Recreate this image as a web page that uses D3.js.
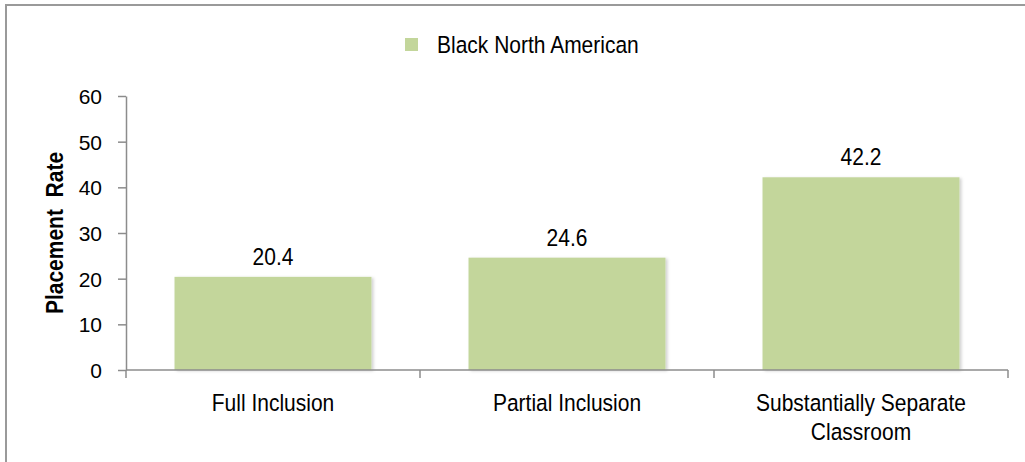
<!DOCTYPE html>
<html><head><meta charset="utf-8">
<script src="https://cdn.jsdelivr.net/npm/d3@7"></script>
<style>
html,body{margin:0;padding:0;background:#fff;}
text{font-family:"Liberation Sans",Arial,sans-serif;fill:#000;}
</style></head>
<body>
<svg id="chart" width="1025" height="462"></svg>
<script>
const categories = [["Full Inclusion"], ["Partial Inclusion"], ["Substantially Separate", "Classroom"]];
const values = [20.4, 24.6, 42.2];
const seriesName = "Black North American";
const yTicks = [0, 10, 20, 30, 40, 50, 60];

const svg = d3.select("#chart");
const m = {left: 126, right: 1008, top: 96, bottom: 370};

// border
svg.append("rect").attr("x", 6).attr("y", 5).attr("width", 1100).attr("height", 600)
  .attr("fill", "none").attr("stroke", "#9a9a9a").attr("stroke-width", 2);

const defs = svg.append("defs");
const f = defs.append("filter").attr("id", "sh").attr("x", "-10%").attr("y", "-10%").attr("width", "130%").attr("height", "130%");
f.append("feDropShadow").attr("dx", 2).attr("dy", 1).attr("stdDeviation", 1.5).attr("flood-color", "#000").attr("flood-opacity", 0.18);

const x = d3.scaleBand().domain(d3.range(categories.length)).range([m.left, m.right]).paddingInner(0.33).paddingOuter(0.165);
const xb = d3.scaleBand().domain(d3.range(categories.length)).range([m.left, m.right]);
const y = d3.scaleLinear().domain([0, 60]).range([m.bottom, m.top]);

// bars
svg.append("g").selectAll("rect").data(values).join("rect")
  .attr("x", (d, i) => x(i)).attr("width", x.bandwidth())
  .attr("y", d => y(d)).attr("height", d => y(0) - y(d))
  .attr("fill", "#c3d69b").attr("filter", "url(#sh)");

// value labels
svg.append("g").selectAll("text").data(values).join("text")
  .attr("transform", (d, i) => `translate(${x(i) + x.bandwidth() / 2},${y(d) - 12}) scale(1,1.1)`)
  .attr("text-anchor", "middle").style("font-size", "21px")
  .text(d => d.toFixed(1));

// y axis
const yAxis = d3.axisLeft(y).tickValues(yTicks).tickSize(8).tickPadding(16).tickSizeOuter(0);
const gy = svg.append("g").attr("transform", `translate(${m.left},0)`).call(yAxis);
gy.select(".domain").attr("stroke", "#8c8c8c").attr("stroke-width", 1.5);
gy.selectAll(".tick line").attr("stroke", "#8c8c8c").attr("stroke-width", 1.5);
gy.selectAll(".tick text").style("font-size", "21px").style("font-family", "'Liberation Sans',Arial,sans-serif").attr("fill", "#000").attr("dy", "0.36em");

// x axis
const gx = svg.append("g").attr("transform", `translate(0,${m.bottom})`);
gx.append("line").attr("x1", m.left).attr("x2", m.right).attr("y1", 0).attr("y2", 0)
  .attr("stroke", "#8c8c8c").attr("stroke-width", 1.5);
const bounds = [m.left].concat(d3.range(categories.length).map(i => xb(i) + xb.bandwidth()));
gx.selectAll("line.t").data(bounds).join("line").attr("class", "t")
  .attr("x1", d => d).attr("x2", d => d).attr("y1", 0).attr("y2", 8)
  .attr("stroke", "#8c8c8c").attr("stroke-width", 1.5);
const lbl = gx.selectAll("text.c").data(categories).join("text").attr("class", "c")
  .attr("text-anchor", "middle").style("font-size", "21px")
  .attr("transform", (d, i) => `translate(${xb(i) + xb.bandwidth() / 2},41) scale(1,1.18)`);
lbl.selectAll("tspan").data(d => d).join("tspan")
  .attr("x", 0).attr("dy", (d, j) => j === 0 ? 0 : 25).text(d => d);

// y title
svg.append("text").attr("transform", `translate(63,233) rotate(-90) scale(1,1.12)`)
  .attr("text-anchor", "middle").style("font-size", "21px").style("font-weight", "bold")
  .style("white-space", "pre").text("Placement  Rate");

// legend
const lg = svg.append("g").attr("transform", "translate(405,38)");
lg.append("rect").attr("width", 13).attr("height", 13).attr("fill", "#c3d69b");
lg.append("text").attr("transform", "translate(32,14.5) scale(1,1.18)").style("font-size", "21px").text(seriesName);
</script>
</body></html>
